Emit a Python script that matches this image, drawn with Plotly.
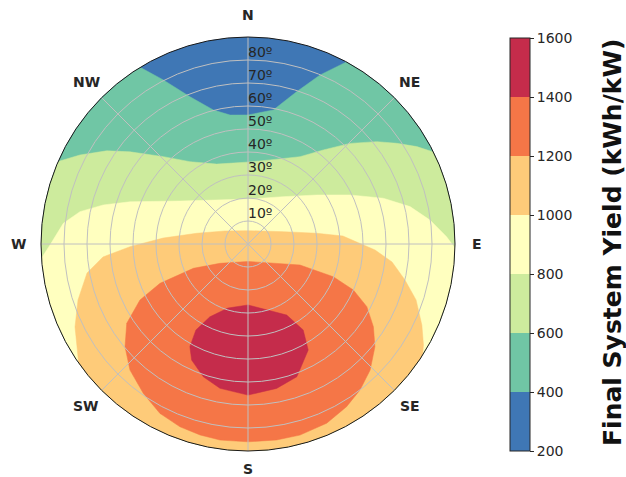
import math
import plotly.graph_objects as go

# ---------------- data ----------------
levels = [200, 400, 600, 800, 1000, 1200, 1400, 1600]
level_colors = ["#3f77b5", "#70c6a5", "#cdeb9d", "#ffffbf",
                "#fecb79", "#f57647", "#c52c4b"]

compass_angles = [0, 45, 90, 135, 180, 225, 270, 315]
compass_labels = ["N", "NE", "E", "SE", "S", "SW", "W", "NW"]
tilt_ticks = [10, 20, 30, 40, 50, 60, 70, 80]
tilt_labels = ["10º", "20º", "30º", "40º", "50º", "60º", "70º", "80º"]

# contour boundaries: azimuth (deg clockwise from N), tilt (deg)
# 400 kWh/kW boundary (rim to rim across the north)
b400_az = [328.6, 332.7, 338.5, 345.5, 352.1, 0.0, 10.7, 17.7, 23.1, 28.4]
b400_tilt = [90, 80.3, 68.8, 60.2, 56.6, 56.1, 59.3, 69.5, 79.9, 90]

# 600 kWh/kW boundary
b600_az = [293.5, 297.9, 303.4, 308.0, 315.9, 324.8, 338.6, 1.4, 14.7,
           30.8, 38.7, 45.4, 51.5, 55.9, 60.0, 63.6]
b600_tilt = [90, 82.7, 73.6, 65.1, 52.9, 43.8, 37.3, 35.7, 37.8,
             44.2, 52.4, 62.3, 71.5, 78.1, 84.7, 90]

# 800 kWh/kW boundary
b800_az = [266.1, 269.7, 276.4, 280.9, 285.1, 289.7, 302.3, 323.1, 2.5,
           36.5, 54.5, 64.3, 71.3, 77.0, 82.5, 87.9, 91.1]
b800_tilt = [90, 86.1, 80.8, 74.4, 65.2, 54.5, 35.0, 23.9, 19.6,
             25.6, 36.7, 49.2, 62.1, 72.3, 79.8, 86.4, 90]

# 1000 kWh/kW boundary
b1000_az = [234.9, 238.9, 244.4, 251.8, 259.8, 264.9, 268.7, 274.0, 281.8,
            299.5, 0.0, 70.8, 81.1, 85.2, 92.7, 97.1, 102.9, 108.4, 115.0,
            119.9, 122.5]
b1000_tilt = [90, 86.8, 83.4, 77.8, 71.1, 63.3, 51.3, 37.0, 22.8,
              11.5, 5.8, 16.3, 30.2, 41.4, 55.3, 63.1, 70.0, 77.0, 83.4,
              88.0, 90]

# 1200 kWh/kW closed contour
b1200_az = [180.0, 130.8, 112.0, 111.0, 113.6, 117.8, 123.4, 129.0, 135.9,
            142.5, 148.8, 156.3, 164.8, 171.7, 180.0, 188.1, 194.1, 200.4,
            207.5, 215.0, 223.1, 230.1, 236.8, 242.6, 245.9, 246.0, 235.4]
b1200_tilt = [7.6, 12.6, 24.4, 39.7, 50.0, 58.4, 65.3, 71.0, 76.3,
              80.0, 82.7, 85.1, 86.1, 86.1, 86.0, 86.1, 85.6, 84.8,
              83.0, 79.3, 75.1, 69.7, 63.0, 52.9, 41.9, 26.0, 14.8]

# 1400 kWh/kW closed contour
b1400_az = [180.0, 151.4, 147.3, 150.4, 159.8, 168.8, 180.0, 191.0, 198.6,
            205.9, 209.5, 211.2, 207.6, 197.4]
b1400_tilt = [26.5, 35.2, 44.4, 53.0, 61.5, 64.0, 65.7, 63.9, 60.9,
              56.1, 51.3, 43.7, 35.7, 29.2]

# ---------------- helpers ----------------
FONT = "DejaVu Sans"
TXT = "#262626"
W, H = 626, 477
TILT_MAX = 90


def close_beyond_rim(az, tilt):
    """Close a rim-to-rim boundary with points outside the plotted circle
    (they are clipped away), going clockwise from the last to the first."""
    a_end, a_start = az[-1], az[0]
    span = (a_start - a_end) % 360
    n = int(span // 40) + 2
    outer = [(a_end + span * k / (n - 1)) % 360 for k in range(n)]
    return list(az) + outer, list(tilt) + [140] * n


regions = [
    (close_beyond_rim(b400_az, b400_tilt), level_colors[1]),
    (close_beyond_rim(b600_az, b600_tilt), level_colors[2]),
    (close_beyond_rim(b800_az, b800_tilt), level_colors[3]),
    (close_beyond_rim(b1000_az, b1000_tilt), level_colors[4]),
    ((b1200_az, b1200_tilt), level_colors[5]),
    ((b1400_az, b1400_tilt), level_colors[6]),
]

fig = go.Figure()

for (az, tilt), col in regions:
    fig.add_trace(go.Scatterpolar(
        theta=list(az) + [az[0]], r=list(tilt) + [tilt[0]],
        mode="lines", fill="toself", fillcolor=col,
        line=dict(color=col, width=0.5),
        hoverinfo="skip", showlegend=False, subplot="polar"))

# discrete colour scale for the colour bar
nlev = len(level_colors)
cscale = []
for i, c in enumerate(level_colors):
    cscale.append([i / nlev, c])
    cscale.append([(i + 1) / nlev, c])

fig.add_trace(go.Scatterpolar(
    theta=[0, 0], r=[0, 0], mode="markers",
    marker=dict(color=[levels[0], levels[-1]], colorscale=cscale,
                cmin=levels[0], cmax=levels[-1], opacity=0, size=1,
                showscale=True,
                colorbar=dict(
                    thickness=20, thicknessmode="pixels",
                    len=413, lenmode="pixels",
                    x=510 / W, xanchor="left",
                    y=(H - 244.5) / H, yanchor="middle",
                    xpad=0, ypad=0,
                    outlinewidth=1, outlinecolor=TXT,
                    ticks="outside", ticklen=4, tickwidth=1, tickcolor=TXT,
                    tickmode="array", tickvals=levels,
                    tickfont=dict(family=FONT, size=14, color=TXT))),
    hoverinfo="skip", showlegend=False, subplot="polar"))

# radial tick labels
fig.add_trace(go.Scatterpolar(
    theta=[0] * len(tilt_ticks), r=tilt_ticks, mode="text",
    text=tilt_labels, textposition="top right",
    textfont=dict(family=FONT, size=14, color=TXT),
    hoverinfo="skip", showlegend=False, subplot="polar2"))

# polar geometry (pixels)
CX, CY, R = 248, 244, 207
dom_x = [(CX - R) / W, (CX + R) / W]
dom_y = [(H - CY - R) / H, (H - CY + R) / H]

# compass labels centred just outside the rim (like matplotlib's);
# the bottom one is pulled in slightly so it stays inside the page
label_r = [99.6, 99.6, 99.6, 99.6, 98.0, 99.6, 99.6, 99.6]
annotations = []
for ang, lab, lr in zip(compass_angles, compass_labels, label_r):
    a = math.radians(ang)
    rp = R * lr / TILT_MAX
    annotations.append(dict(
        text=lab, xref="paper", yref="paper",
        x=(CX + rp * math.sin(a)) / W,
        y=(H - CY + rp * math.cos(a)) / H,
        xanchor="center", yanchor="middle", showarrow=False,
        font=dict(family=FONT, size=14, weight="bold", color=TXT)))

annotations.append(dict(
    text="Final System Yield (kWh/kW)", textangle=-90,
    xref="paper", yref="paper", x=612 / W, y=(H - 243) / H,
    xanchor="center", yanchor="middle", showarrow=False,
    font=dict(family=FONT, size=25, weight="bold", color="#111111")))

fig.update_layout(
    width=W, height=H, autosize=False,
    margin=dict(l=0, r=0, t=0, b=0),
    paper_bgcolor="white",
    font=dict(family=FONT, color=TXT),
    polar=dict(
        domain=dict(x=dom_x, y=dom_y),
        bgcolor=level_colors[0],
        angularaxis=dict(rotation=90, direction="clockwise",
                         showgrid=False, showticklabels=False,
                         ticks="", showline=False),
        radialaxis=dict(range=[0, TILT_MAX], visible=False),
    ),
    polar2=dict(
        domain=dict(x=dom_x, y=dom_y),
        bgcolor="rgba(0,0,0,0)",
        angularaxis=dict(rotation=90, direction="clockwise",
                         tickmode="array", tickvals=compass_angles,
                         showticklabels=False, ticks="",
                         showgrid=True, gridcolor="#c0c0c0", gridwidth=1,
                         showline=True, linecolor="#1a1a1a", linewidth=1),
        radialaxis=dict(range=[0, TILT_MAX], tickmode="array",
                        tickvals=tilt_ticks,
                        showticklabels=False, ticks="", showline=False,
                        showgrid=True, gridcolor="#c0c0c0", gridwidth=1),
    ),
    annotations=annotations,
)

fig.write_html("out.html",
               config={"displayModeBar": False},
               post_script="document.body.style.margin='0';"
                           "document.body.style.overflow='hidden';")
